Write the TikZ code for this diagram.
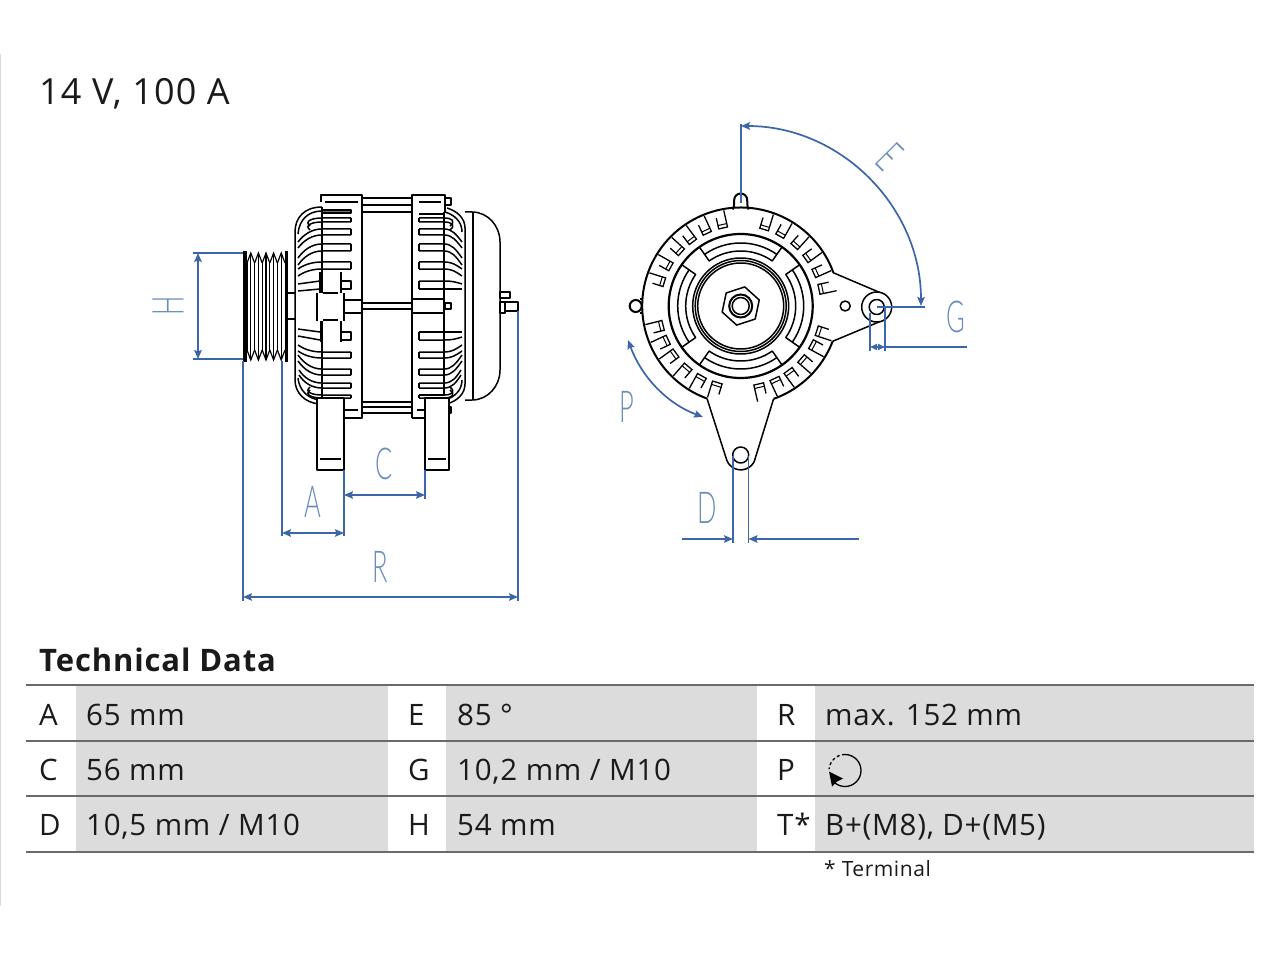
\documentclass[tikz,border=0pt]{standalone}
\usepackage{fontspec}
\usetikzlibrary{arrows.meta}
\setmainfont{Open Sans}
\newfontfamily\dimfont{Lato Light}
\newfontfamily\tablefont[LetterSpace=2.6]{Open Sans}
\newfontfamily\headfont[LetterSpace=2.8]{Open Sans}
\newfontfamily\ratingfont[LetterSpace=3.3]{Open Sans}
\definecolor{dimblue}{HTML}{3C66A8}
\definecolor{cellgray}{HTML}{DCDCDC}
\definecolor{rulegray}{HTML}{6A6A6A}
\definecolor{inkblack}{HTML}{1A1A1A}
\tikzset{
  part/.style={line width=1.5pt,black,line join=round},
  thin part/.style={line width=1.2pt,black},
  heavy part/.style={line width=2pt,black},
  dim/.style={line width=1.7pt,dimblue},
  dim tip/.tip={Stealth[length=9pt,width=7.5pt,inset=1.5pt]},
  dim arrow/.style={dim,{dim tip}-{dim tip}},
  dim label/.style={text=dimblue!75,font=\dimfont\fontsize{44}{44}\selectfont,inner sep=0pt,xscale=0.58,transform shape},
  cell/.style={anchor=base west,inner sep=0pt,text=inkblack,font=\tablefont\fontsize{29.5}{29.5}\selectfont},
}
\begin{document}
\begin{tikzpicture}[x=1pt,y=-1pt]
\useasboundingbox (0,0) rectangle (1280,960);
\draw[line width=1pt,black!15] (0.5,54) -- (0.5,906);
\node[cell,font=\ratingfont\fontsize{36}{36}\selectfont] (rating) at (39,105) {14 V, 100 A};

% side view: pulley
\fill[black] (243,251) rectangle (247,362);
\fill[black] (285,251) rectangle (288,362);
\foreach \i in {0,...,4} {
  \draw[thin part] ({247+7.6*\i},263) -- ({250.8+7.6*\i},253) -- ({254.6+7.6*\i},263);
  \draw[thin part] ({247+7.6*\i},350) -- ({250.8+7.6*\i},360) -- ({254.6+7.6*\i},350);
  \draw[thin part] ({247+7.6*\i},263) -- ({247+7.6*\i},350);
  \draw[thin part] ({250.8+7.6*\i},253) -- ({250.8+7.6*\i},360);
}
\draw[part] (288,293) -- (295,293) (288,319) -- (295,319);

% side view: drive end housing
\draw[part] (322,207) .. controls (304,207) and (295,218) .. (295,232) -- (295,380) .. controls (295,392) and (304,403) .. (320,404);
\draw[part] (322,211) .. controls (308,211) and (299,220) .. (298,234);
\draw[part] (298,378) .. controls (299,390) and (308,399) .. (320,400);
\draw[part] (321,202) -- (321,195) -- (362,195) -- (362,418) -- (344,418);
\draw[part] (325,202) -- (358,202);
\draw[line width=2pt] (344,410) -- (358,410);
\draw[part] (322,207) -- (322,398);
\fill[black!55] (322,210) rectangle (351,213);
\draw[part] (322,210) rectangle (351,213);

% side view: rear housing
\draw[part] (447,208) .. controls (457,211) and (465,218) .. (465,228) -- (465,384) .. controls (465,394) and (457,401) .. (447,404);
\draw[part] (445,212) .. controls (455,215) and (462,222) .. (462,232);
\draw[part] (462,380) .. controls (462,390) and (455,397) .. (445,400);
\draw[part] (412,418) -- (412,195) -- (445,195) -- (445,212);
\draw[part] (412,418) -- (425,418);
\draw[part] (444,212) -- (444,396);
\draw[part] (419,202) -- (441,202);
\draw[line width=2pt] (417,410) -- (425,410);
\draw[part] (445,198) -- (451,198) -- (451,205) -- (445,205);
\draw[part] (449,407) -- (451,407) -- (451,413) -- (449,413);

% side view: fins
\foreach \ya/\yb/\xe/\d in {218/222/310/8,229/235/298/13,244/251/298/14,262/269/298/7,352/358/298/-7,369/375/298/-14,383/388/299/-13,395/398/310/-8} {
  \draw[part] (351,\ya) -- (351,\yb);
  \draw[part] (351,\ya) -- (322,\ya) .. controls (312,\ya) and (304,\ya+\d*0.4) .. (\xe,\ya+\d);
  \draw[part] (351,\yb) -- (322,\yb) .. controls (312,\yb) and (304,\yb+\d*0.4) .. (\xe,\yb+\d);
  \draw[part] (419,\ya) -- (419,\yb);
  \draw[part] (419,\ya) -- (444,\ya) .. controls (452,\ya) and (456,\ya+\d*0.4) .. (760-\xe,\ya+\d);
  \draw[part] (419,\yb) -- (444,\yb) .. controls (452,\yb) and (456,\yb+\d*0.4) .. (760-\xe,\yb+\d);
}
\draw[part] (298,284) -- (320,281) (298,291) -- (320,289) (298,329) -- (320,332) (298,336) -- (320,340);
\draw[part] (341,281) rectangle (351,289) (341,332) rectangle (351,340);
\draw[part] (419,281) -- (444,281) .. controls (452,281) and (456,282) .. (462,284);
\draw[part] (419,289) -- (462,289) (419,281) -- (419,289);
\draw[part] (419,332) -- (462,332) (419,332) -- (419,340);
\draw[part] (419,340) -- (444,340) .. controls (452,340) and (456,339) .. (462,337);
\draw[part] (419,214) -- (444,214) (419,395) -- (444,395);

% side view: stator and through bolt
\draw[part] (362,198) -- (412,198) (362,205) -- (412,205) (362,212) -- (412,212);
\draw[part] (362,402) -- (412,402) (362,407) -- (412,407) (362,413) -- (412,413);
\draw[part] (362,303) -- (412,303) (362,309) -- (412,309);
\draw[part] (344,300) -- (362,300) (344,313) -- (362,313);
\draw[part] (412,299) -- (445,299) (412,313) -- (445,313);
\draw[part] (445,303) rectangle (451,309);
\draw[part] (320,272) -- (320,293) (341,272) -- (341,293);
\fill[white] (317,293) rectangle (344,321);
\draw[part] (317,293) -- (317,321) (344,293) -- (344,321);
\draw[part] (323,293) -- (338,293) (323,320) -- (338,320);
\draw[part] (321,321) -- (321,342) (341,321) -- (341,342);

% side view: feet
\draw[part,fill=white] (317,398) rectangle (344,470);
\draw[part] (320,459) -- (341,459);
\draw[part,fill=white] (425,398) rectangle (449,470);
\draw[part] (428,459) -- (446,459);

% side view: rear cover and terminals
\draw[part] (465,212) -- (472,212) .. controls (488,212) and (500,226) .. (500,242) -- (500,370) .. controls (500,386) and (488,400) .. (472,400) -- (465,400);
\draw[part] (473,213) -- (473,399);
\draw[part] (500,292) rectangle (510,298);
\draw[part] (500,302) rectangle (505,313);
\draw[part] (505,302) rectangle (518,311);

% front view, origin at the shaft
\begin{scope}[shift={(740.7,306)},y=1pt]
  \draw[heavy part] (-70.5:98.5) arc[start angle=-70.5,end angle=-21,radius=98.5];
  \draw[heavy part] (19.7:98.5) arc[start angle=19.7,end angle=250,radius=98.5];
  % ear
  \draw[part] (19.7:98.5) -- (145,11);
  \draw[part] (-21:98.5) -- (143,-14);
  \draw[part,fill=white] (136,-1) circle[radius=15];
  \draw[part,fill=white] (136,-1) circle[radius=7.5];
  \draw[part] (104.5,0) circle[radius=5];
  % foot
  \draw[part] (250:98.5) -- (-14,-154) arc[start angle=200,end angle=340,radius=15];
  \draw[part] (-70.5:98.5) -- (14,-154);
  \draw[part,fill=white] (0,-149) circle[radius=8];
  % lugs
  \draw[heavy part] (-8,96.5) .. controls (-6,100) and (-7,103) .. (-6.5,106) arc[start angle=180,end angle=0,radius=6.5] .. controls (7,103) and (6,100) .. (8,96.5);
  \draw[heavy part] (-105,0) circle[radius=6];
  \draw[heavy part] (-101,7) -- (-98,7) (-101,-7) -- (-98,-7);
  % rings
  \draw[line width=2.2pt] (0,0) circle[radius=72];
  \foreach \r in {48,45.5,43} \draw[part] (0,0) circle[radius=\r];
  \foreach \a in {90,180,270,360} {
    \draw[part] (\a-35:72) -- (\a-35:55) arc[start angle=\a-35,end angle=\a+35,radius=55] -- (\a+35:72);
    \draw[part] (\a-35:63) arc[start angle=\a-35,end angle=\a+35,radius=63];
  }
  % hexagon nut
  \draw[part] (18:19.5) -- (78:19.5) -- (138:19.5) -- (198:19.5) -- (258:19.5) -- (318:19.5) -- cycle;
  \draw[heavy part] (0,0) circle[radius=11.5];
  \draw[part] (0,0) circle[radius=8.5];
  % slots
  \foreach \a/\w in {12/5,24/4.5,36/4.5,48/4.5,60.8/4.5,73/4.5,102.7/4.5,114.7/4.5,126.7/4.5,137.8/4.5,150.7/4.5,162.7/4.5,-18/5,-28.5/5,-41/5,-53.7/5,-65/5,-77/5,-107/5,-119/5,-131/5,-144/5,-155/5,-166/5} {
    \draw[line width=1.3pt,rotate=\a] (97,-\w) -- (80,-\w) -- (80,\w) -- (91,\w);
    \draw[line width=1pt,rotate=\a] (83.5,-\w) -- (83.5,\w);
  }
\end{scope}

% dimensions
\draw[dim] (193,253) -- (243,253) (193,359) -- (243,359);
\draw[dim arrow] (198,253) -- (198,359);
\draw[dim] (243,361) -- (243,601) (518,311) -- (518,601);
\draw[dim arrow] (243,597) -- (518,597);
\draw[dim] (282,361) -- (282,536) (344,470) -- (344,536);
\draw[dim arrow] (282,533) -- (344,533);
\draw[dim] (425,470) -- (425,499);
\draw[dim arrow] (344,495) -- (425,495);
\draw[dim] (741,124) -- (741,203) (877,307) -- (925,307);
\draw[dim arrow] (741,126) arc[start angle=-90,end angle=0,radius=180];
\draw[dim] (870,313) -- (870,351) (885,307) -- (885,351);
\draw[dim,{Stealth[length=7pt,width=6pt,inset=0pt]}-{Stealth[length=7pt,width=6pt,inset=0pt]}] (870,347) -- (885,347);
\draw[dim] (885,347) -- (967,347);
\draw[dim] (733,456) -- (733,543) (748.5,456) -- (748.5,543);
\draw[dim,-{dim tip}] (682,539) -- (733,539);
\draw[dim,-{dim tip}] (859,539) -- (748.5,539);
\draw[dim arrow] (628,340) .. controls (642,378) and (668,404) .. (703,417);

\node[rotate=90,dim label] (labelH) at (168,306) {H};
\node[dim label] (labelA) at (313,502) {A};
\node[dim label] (labelC) at (384,464) {C};
\node[dim label] (labelR) at (380,567) {R};
\node[rotate=-45,dim label] (labelE) at (890,157) {E};
\node[dim label] (labelG) at (956,317) {G};
\node[dim label] (labelP) at (627,407) {P};
\node[dim label] (labelD) at (707,508) {D};

% table
\node[cell,font=\headfont\fontsize{31}{31}\selectfont\bfseries] (title) at (39,671) {Technical Data};
\fill[cellgray] (76,685) rectangle (388,852);
\fill[cellgray] (446,685) rectangle (757,852);
\fill[cellgray] (815,685) rectangle (1254,852);
\foreach \y in {685,741,796,852} \draw[line width=1.2pt,rulegray] (26,\y) -- (1254,\y);

\node[cell] (keyA) at (39,725) {A};
\node[cell] (valA) at (86,725) {65 mm};
\node[cell] (keyC) at (39,780.5) {C};
\node[cell] (valC) at (86,780.5) {56 mm};
\node[cell] (keyD) at (39,835.5) {D};
\node[cell] (valD) at (86,835.5) {10,5 mm / M10};
\node[cell] (keyE) at (408,725) {E};
\node[cell] (valE) at (457,725) {85 °};
\node[cell] (keyG) at (408,780.5) {G};
\node[cell] (valG) at (457,780.5) {10,2 mm / M10};
\node[cell] (keyH) at (408,835.5) {H};
\node[cell] (valH) at (457,835.5) {54 mm};
\node[cell] (keyR) at (777,725) {R};
\node[cell] (valR) at (825,725) {max. 152 mm};
\node[cell] (keyP) at (777,780.5) {P};
\node[cell] (keyT) at (777,835.5) {T*};
\node[cell] (valT) at (825,835.5) {B+(M8), D+(M5)};
\node[cell,font=\tablefont\fontsize{21}{21}\selectfont] (terminal) at (824,876) {* Terminal};

% rotation sign
\begin{scope}[shift={(845,770.5)},y=1pt]
  \draw[line width=1.3pt,black] (90:16) arc[start angle=90,end angle=-130,radius=16];
  \draw[line width=1.3pt,black,dash pattern=on 3pt off 2.5pt] (90:16) arc[start angle=90,end angle=175,radius=16];
  \fill[black] (-16,-1) -- (-13,-16) -- (-8,-11) -- (-2,-8) -- cycle;
\end{scope}
\end{tikzpicture}
\end{document}
